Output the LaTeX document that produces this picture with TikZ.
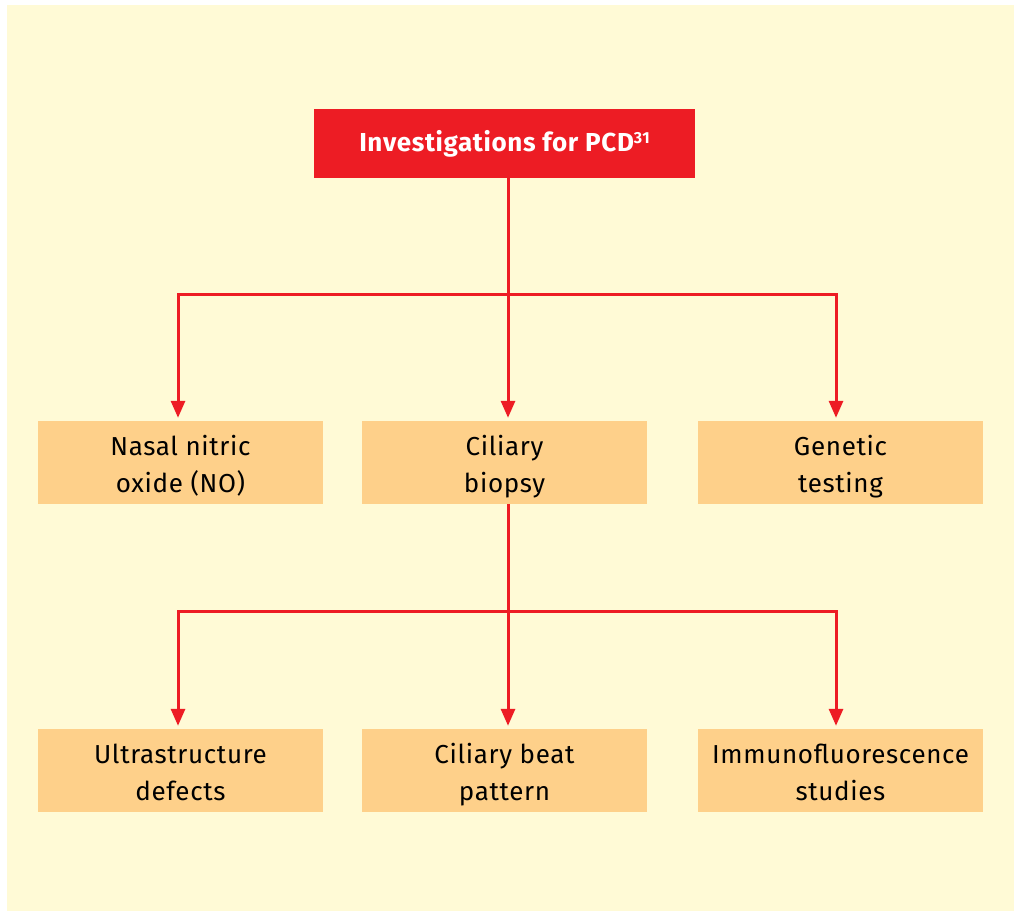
\documentclass[tikz,border=0pt]{standalone}
\usepackage{fontspec}
\setmainfont{Fira Sans}[LetterSpace=2.5]
\usetikzlibrary{arrows.meta}
\definecolor{cream}{RGB}{255,250,214}
\definecolor{pcdred}{RGB}{237,28,36}
\definecolor{boxorange}{RGB}{254,208,138}
\tikzset{
  headbox/.style={fill=pcdred, text=white, font=\fontsize{26}{30}\selectfont\bfseries,
    minimum width=381pt, minimum height=69pt, inner sep=0pt, anchor=center},
  itembox/.style={fill=boxorange, minimum width=285pt, minimum height=83pt,
    inner sep=0pt, anchor=center},
  itemtext/.style={text=black, font=\fontsize{26}{37}\selectfont, align=center,
    text depth=6pt, inner sep=0pt, anchor=center},
  link/.style={draw=pcdred, line width=3pt},
  arr/.style={link, -{Triangle[width=14pt,length=17pt]}, shorten >=3pt},
}
\newcommand{\refmark}[1]{\raisebox{7.4pt}{\fontsize{16}{16}\selectfont #1}}
% a filled box with its two-line caption set slightly below the centre
\newcommand{\itemnode}[3]{%
  \node[itembox] (#1) at (#2) {};
  \node[itemtext] (#1-text) at ([yshift=-4.5pt]#1.center) {#3};
}
\begin{document}
\begin{tikzpicture}[x=1pt,y=-1pt]
  % page and background panel
  \useasboundingbox (0,0) rectangle (1014,913);
  \fill[white] (0,0) rectangle (1014,913);
  \fill[cream] (7,5) rectangle (1014,911);

  % boxes
  \node[headbox] (top) at (504.5,143.5) {Investigations for PCD\refmark{31}};

  \itemnode{nasal}{180.5,462.5}{Nasal nitric\\oxide (NO)}
  \itemnode{biopsy}{504.5,462.5}{Ciliary\\biopsy}
  \itemnode{genetic}{840.5,462.5}{Genetic\\testing}

  \itemnode{ultra}{180.5,770.5}{Ultrastructure\\defects}
  \itemnode{beat}{504.5,770.5}{Ciliary beat\\pattern}
  \itemnode{immuno}{840.5,770.5}{Immunofluorescence\\studies}

  % branch points
  \coordinate (j1) at (508,294);
  \coordinate (j2) at (508,611);
  \coordinate (cl) at (178,0);
  \coordinate (cr) at (836,0);

  % first level connectors
  \draw[arr] (top.south -| j1) -- (biopsy.north -| j1);
  \draw[arr] (j1) -| (nasal.north -| cl);
  \draw[arr] (j1) -| (genetic.north -| cr);

  % second level connectors
  \draw[arr] (biopsy.south -| j2) -- (beat.north -| j2);
  \draw[arr] (j2) -| (ultra.north -| cl);
  \draw[arr] (j2) -| (immuno.north -| cr);
\end{tikzpicture}
\end{document}
